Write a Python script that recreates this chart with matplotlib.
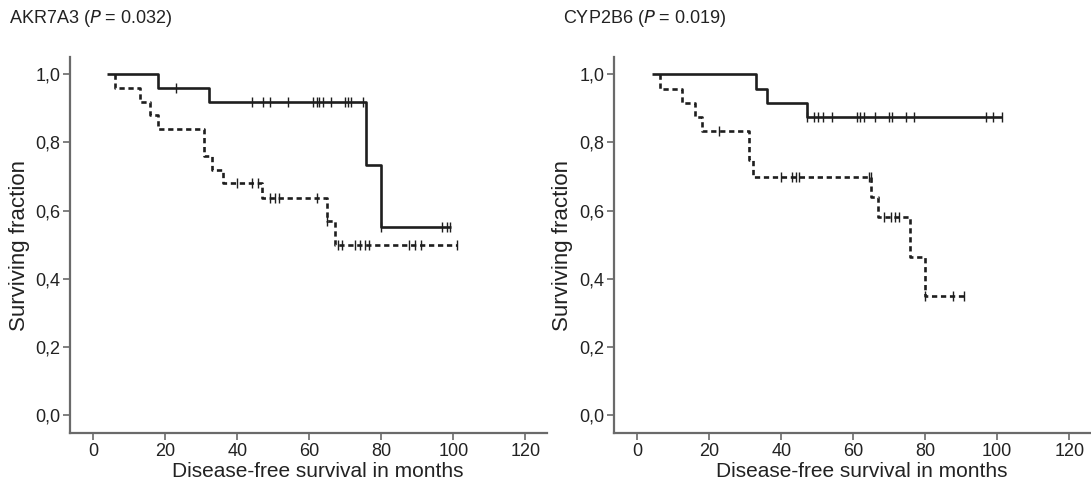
import numpy as np
import matplotlib.pyplot as plt

plt.rcParams['font.family'] = ['Liberation Sans', 'DejaVu Sans']

# AKR7A3 panel
akr_solid_start, akr_solid_end = 3.7, 99.5
akr_solid_events = [18, 32, 75.8, 80]
akr_solid_surv = [0.96, 0.92, 0.735, 0.551]
akr_solid_cens = [23, 44, 47, 49, 54, 61, 62, 62.8, 63.7, 66, 70, 70.8, 71.6, 75, 80, 97, 98.2, 99.2]

akr_dash_start, akr_dash_end = 6, 101
akr_dash_events = [6, 13, 15.8, 18, 30.8, 33, 36, 46.8, 65, 67]
akr_dash_surv = [0.96, 0.92, 0.88, 0.84, 0.76, 0.72, 0.68, 0.636, 0.57, 0.50]
akr_dash_cens = [40, 44.2, 45.6, 49, 50.5, 51.5, 62, 65, 68, 69, 72.7, 74, 75.5, 76.6, 87.8, 89.4, 90.9, 101]

# CYP2B6 panel
cyp_solid_start, cyp_solid_end = 4.1, 101.2
cyp_solid_events = [32.9, 36, 47]
cyp_solid_surv = [0.958, 0.917, 0.875]
cyp_solid_cens = [47, 49.2, 50.1, 51.6, 54.2, 60.9, 61.9, 63.1, 65.9, 69.9, 70.8, 74.7, 77, 97, 98.8, 101.2]

cyp_dash_start, cyp_dash_end = 6.2, 91
cyp_dash_events = [6.2, 12.5, 16, 18, 30.9, 32, 65, 67, 75.8, 80]
cyp_dash_surv = [0.958, 0.917, 0.875, 0.833, 0.75, 0.70, 0.64, 0.58, 0.464, 0.348]
cyp_dash_cens = [22.7, 40, 43.1, 44.2, 45, 64.5, 64.8, 68.6, 70.5, 71.7, 72.6, 80, 87.7, 90.9]

titles = ['AKR7A3 (', 'CYP2B6 (']
pvals = ['0.032', '0.019']
yticks = [0.0, 0.2, 0.4, 0.6, 0.8, 1.0]
xticks = [0, 20, 40, 60, 80, 100, 120]

line_col = '#1e1e1e'
axis_col = '#6a6a6a'


def km(ax, start, end, events, surv, cens, dashed):
    t = np.r_[start, events, end]
    s = np.r_[1.0, surv, surv[-1]]
    ls = (0, (2.0, 1.4)) if dashed else '-'
    ax.step(t, s, where='post', color=line_col, lw=1.9, ls=ls, solid_capstyle='butt')
    ev = np.array(events)
    idx = np.searchsorted(ev, cens, side='right')
    sc = np.r_[1.0, surv][idx]
    ax.plot(cens, sc, ls='none', marker='|', ms=7, mew=1.0, color=line_col)


fig = plt.figure(figsize=(10.91, 4.88), dpi=100)
ax1 = fig.add_axes([0.0642, 0.112, 0.437, 0.7705])
ax2 = fig.add_axes([0.5628, 0.112, 0.437, 0.7705])

km(ax1, akr_solid_start, akr_solid_end, akr_solid_events, akr_solid_surv, akr_solid_cens, False)
km(ax1, akr_dash_start, akr_dash_end, akr_dash_events, akr_dash_surv, akr_dash_cens, True)
km(ax2, cyp_solid_start, cyp_solid_end, cyp_solid_events, cyp_solid_surv, cyp_solid_cens, False)
km(ax2, cyp_dash_start, cyp_dash_end, cyp_dash_events, cyp_dash_surv, cyp_dash_cens, True)

for ax in (ax1, ax2):
    ax.set_xlim(-6.5, 126)
    ax.set_ylim(-0.054, 1.05)
    for sp in ('top', 'right'):
        ax.spines[sp].set_visible(False)
    for sp in ('left', 'bottom'):
        ax.spines[sp].set_color(axis_col)
        ax.spines[sp].set_linewidth(1.6)
    ax.set_xticks(xticks)
    ax.set_yticks(yticks)
    ax.set_yticklabels([f'{v:.1f}'.replace('.', ',') for v in yticks])
    ax.tick_params(direction='out', length=5, width=1.2, color=axis_col,
                   labelsize=13, labelcolor='#222222', pad=2)
    ax.set_xlabel('Disease-free survival in months', fontsize=15, color='#222222')
    ax.set_ylabel('Surviving fraction', fontsize=16, color='#222222')
    ax.xaxis.set_label_coords(0.52, -0.075)
    ax.yaxis.set_label_coords(-0.085, 0.5)

for ax, t, p, x0 in zip((ax1, ax2), titles, pvals, (0.008, 0.516)):
    fig.text(x0, 0.963, t + '$\\it{P}$ = ' + p + ')', fontsize=13,
             color='#222222', va='center', ha='left')

fig.savefig('out.png', dpi=100)
